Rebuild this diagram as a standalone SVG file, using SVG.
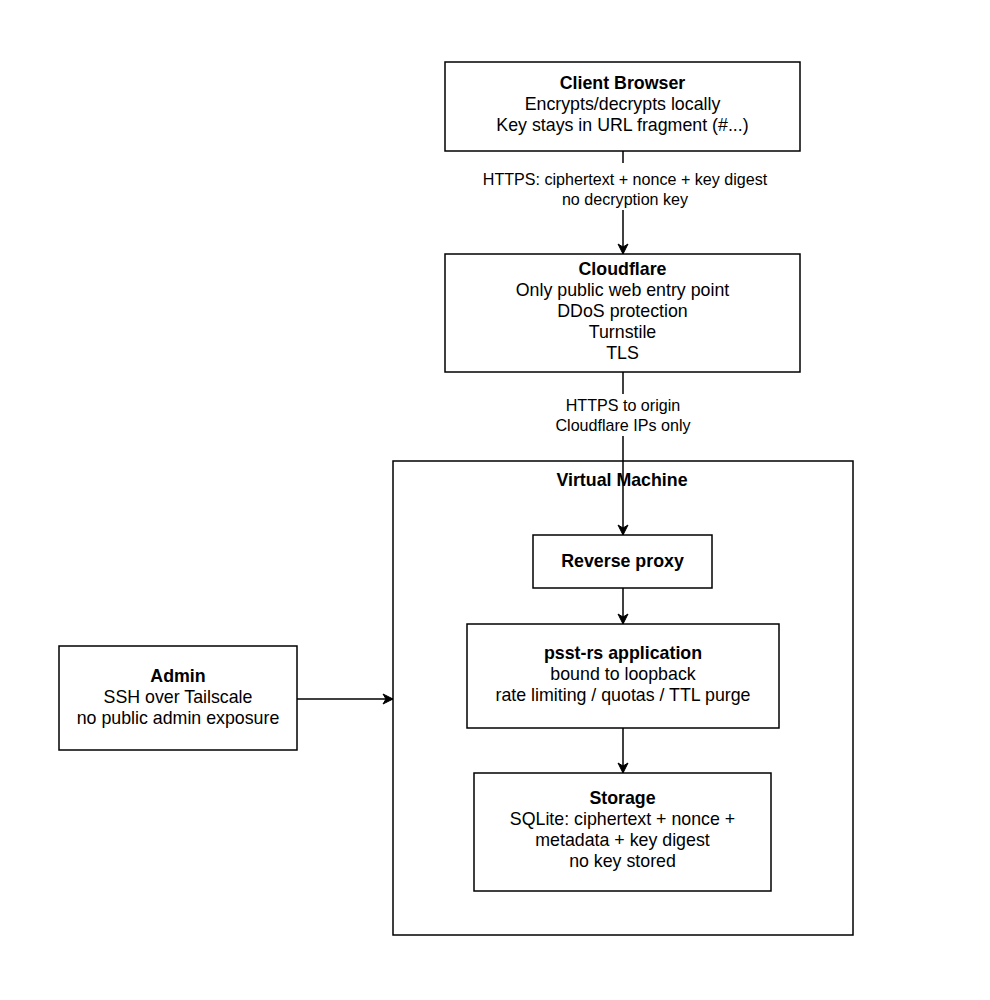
<svg xmlns="http://www.w3.org/2000/svg" width="990" height="1000" viewBox="0 0 990 1000">
<defs>
<style>
.box{fill:#fff;stroke:#000;stroke-width:1.5}
.t{font-family:"Liberation Sans",Arial,Helvetica,sans-serif;font-size:17.8px;fill:#000;text-anchor:middle}
.b{font-weight:bold}
.l{font-family:"Liberation Sans",Arial,Helvetica,sans-serif;font-size:16.1px;fill:#000;text-anchor:middle}
.e{fill:none;stroke:#000;stroke-width:1.5}
</style>
<marker id="arr" markerUnits="userSpaceOnUse" markerWidth="12" markerHeight="12" viewBox="0 0 12 12" refX="11" refY="6" orient="auto">
<path d="M1,1 L11,6 L1,11 L4,6 z" fill="#000" stroke="#000" stroke-width="1"/>
</marker>
</defs>
<rect width="990" height="1000" fill="#fff"/>

<g id="vm">
<rect class="box" x="393" y="461" width="460" height="474"/>
<text class="t b" x="622" y="486">Virtual Machine</text>
</g>

<g id="client-browser">
<rect class="box" x="445" y="62" width="355" height="89"/>
<text class="t b" x="622.5" y="89">Client Browser</text>
<text class="t" x="622.5" y="110">Encrypts/decrypts locally</text>
<text class="t" x="622.5" y="131">Key stays in URL fragment (#...)</text>
</g>

<g id="cloudflare">
<rect class="box" x="445" y="254" width="355" height="118"/>
<text class="t b" x="622.5" y="275">Cloudflare</text>
<text class="t" x="622.5" y="296">Only public web entry point</text>
<text class="t" x="622.5" y="317">DDoS protection</text>
<text class="t" x="622.5" y="338">Turnstile</text>
<text class="t" x="622.5" y="359">TLS</text>
</g>

<g id="reverse-proxy">
<rect class="box" x="533" y="535" width="179" height="53"/>
<text class="t b" x="622.5" y="567">Reverse proxy</text>
</g>

<g id="app">
<rect class="box" x="467" y="624" width="312" height="104"/>
<text class="t b" x="623" y="659">psst-rs application</text>
<text class="t" x="623" y="680">bound to loopback</text>
<text class="t" x="623" y="701">rate limiting / quotas / TTL purge</text>
</g>

<g id="storage">
<rect class="box" x="474" y="773" width="297" height="118"/>
<text class="t b" x="622.5" y="804">Storage</text>
<text class="t" x="622.5" y="825">SQLite: ciphertext + nonce +</text>
<text class="t" x="622.5" y="846">metadata + key digest</text>
<text class="t" x="622.5" y="867">no key stored</text>
</g>

<g id="admin">
<rect class="box" x="59" y="646" width="238" height="104"/>
<text class="t b" x="178" y="682">Admin</text>
<text class="t" x="178" y="703">SSH over Tailscale</text>
<text class="t" x="178" y="724">no public admin exposure</text>
</g>

<g id="connectors">
<line class="e" x1="623" y1="151" x2="623" y2="254" marker-end="url(#arr)"/>
<rect x="480" y="163" width="292" height="47" fill="#fff"/>
<text class="l" x="625" y="185">HTTPS: ciphertext + nonce + key digest</text>
<text class="l" x="625" y="205">no decryption key</text>

<line class="e" x1="623" y1="372" x2="623" y2="535" marker-end="url(#arr)"/>
<rect x="562" y="394" width="122" height="42" fill="#fff"/>
<text class="l" x="623" y="411">HTTPS to origin</text>
<text class="l" x="623" y="431">Cloudflare IPs only</text>

<line class="e" x1="623" y1="588" x2="623" y2="624" marker-end="url(#arr)"/>
<line class="e" x1="623" y1="728" x2="623" y2="773" marker-end="url(#arr)"/>
<line class="e" x1="297" y1="699" x2="393" y2="699" marker-end="url(#arr)"/>
</g>
</svg>
